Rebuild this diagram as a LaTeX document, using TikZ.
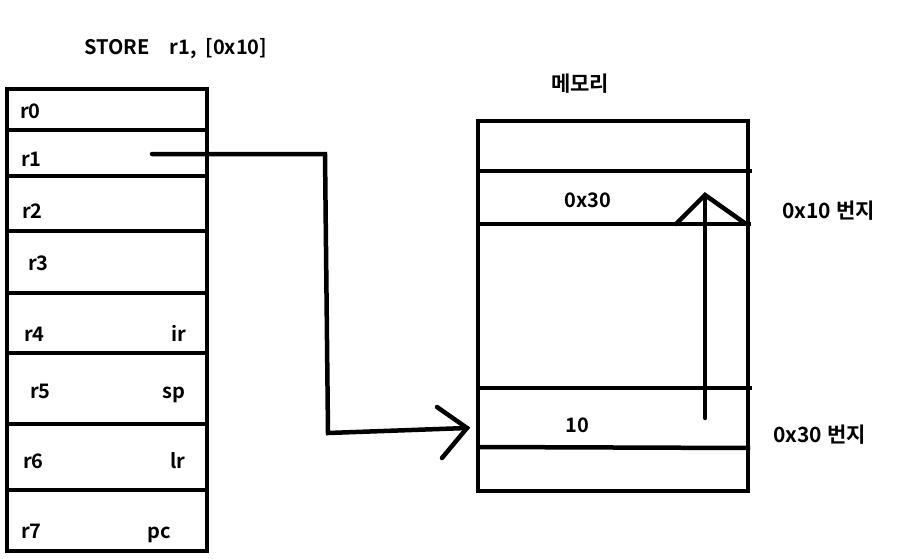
\documentclass[tikz,border=0pt]{standalone}
\usepackage{fontspec}
\newfontfamily\krfont{Noto Sans CJK KR Bold}
\begin{document}
\begin{tikzpicture}[x=1pt,y=-1pt,line width=4.5pt,
  lbl/.style={inner sep=0pt,anchor=base west,font=\krfont\fontsize{20}{24}\selectfont},
  klbl/.style={lbl,font=\krfont\fontsize{21}{25}\selectfont},
  box/.style={draw,line width=4.5pt},
  conn/.style={line width=4.5pt,line cap=round,line join=miter}]
\useasboundingbox (0,0) rectangle (899,559);
\fill[white] (0,0) rectangle (899,559);
% title
\node[lbl] (title) at (82,55) {STORE\hspace{20pt}r1,\hspace{9pt}[0x10]};
% register file
\draw[box] (7,89) rectangle (207,551);
\foreach \y in {130,176,231,293,353,424,490} \draw (7,\y) -- (209,\y);
\node[lbl] (r0) at (18,119) {r0};
\node[lbl] (r1) at (19,166) {r1};
\node[lbl] (r2) at (20,218) {r2};
\node[lbl] (r3) at (26,270) {r3};
\node[lbl] (r4) at (22,341) {r4};
\node[lbl] (ir) at (169,341) {ir};
\node[lbl] (r5) at (28,398) {r5};
\node[lbl] (sp) at (160,398) {sp};
\node[lbl] (r6) at (21,468) {r6};
\node[lbl] (lr) at (168,468) {lr};
\node[lbl] (r7) at (19,538) {r7};
\node[lbl] (pc) at (145,538) {pc};
% memory
\node[klbl] (mem) at (549,92) {메모리};
\draw[box] (478,121) rectangle (748,491);
\draw (478,171) -- (752,171);
\draw (476,224) -- (751,224);
\draw (478,388) -- (752,388);
\draw (478,447) -- (750,448);
\node[lbl] (v30) at (562,207) {0x30};
\node[klbl] (a10) at (780,218) {0x10 번지};
\node[lbl] (v10) at (563,432) {10};
\node[klbl] (a30) at (771,442) {0x30 번지};
% connector r1 -> memory cell 0x30
\coordinate (s1) at (152,154);
\coordinate (b1) at (325,154);
\coordinate (b2) at (328,433);
\coordinate (t1) at (467,428);
\coordinate (h1) at (437,407);
\coordinate (h2) at (442,458);
\draw[conn] (s1) -- (b1) -- (b2) -- (t1);
\draw[conn] (h1) -- (t1) -- (h2);
% pointer arrow 0x30 -> 0x10 cell
\coordinate (u1) at (705,418);
\coordinate (u2) at (705,195);
\coordinate (g1) at (676,224);
\coordinate (g2) at (746,224);
\draw[conn] (u1) -- (u2);
\draw[conn] (g1) -- (u2) -- (g2);
\end{tikzpicture}
\end{document}
